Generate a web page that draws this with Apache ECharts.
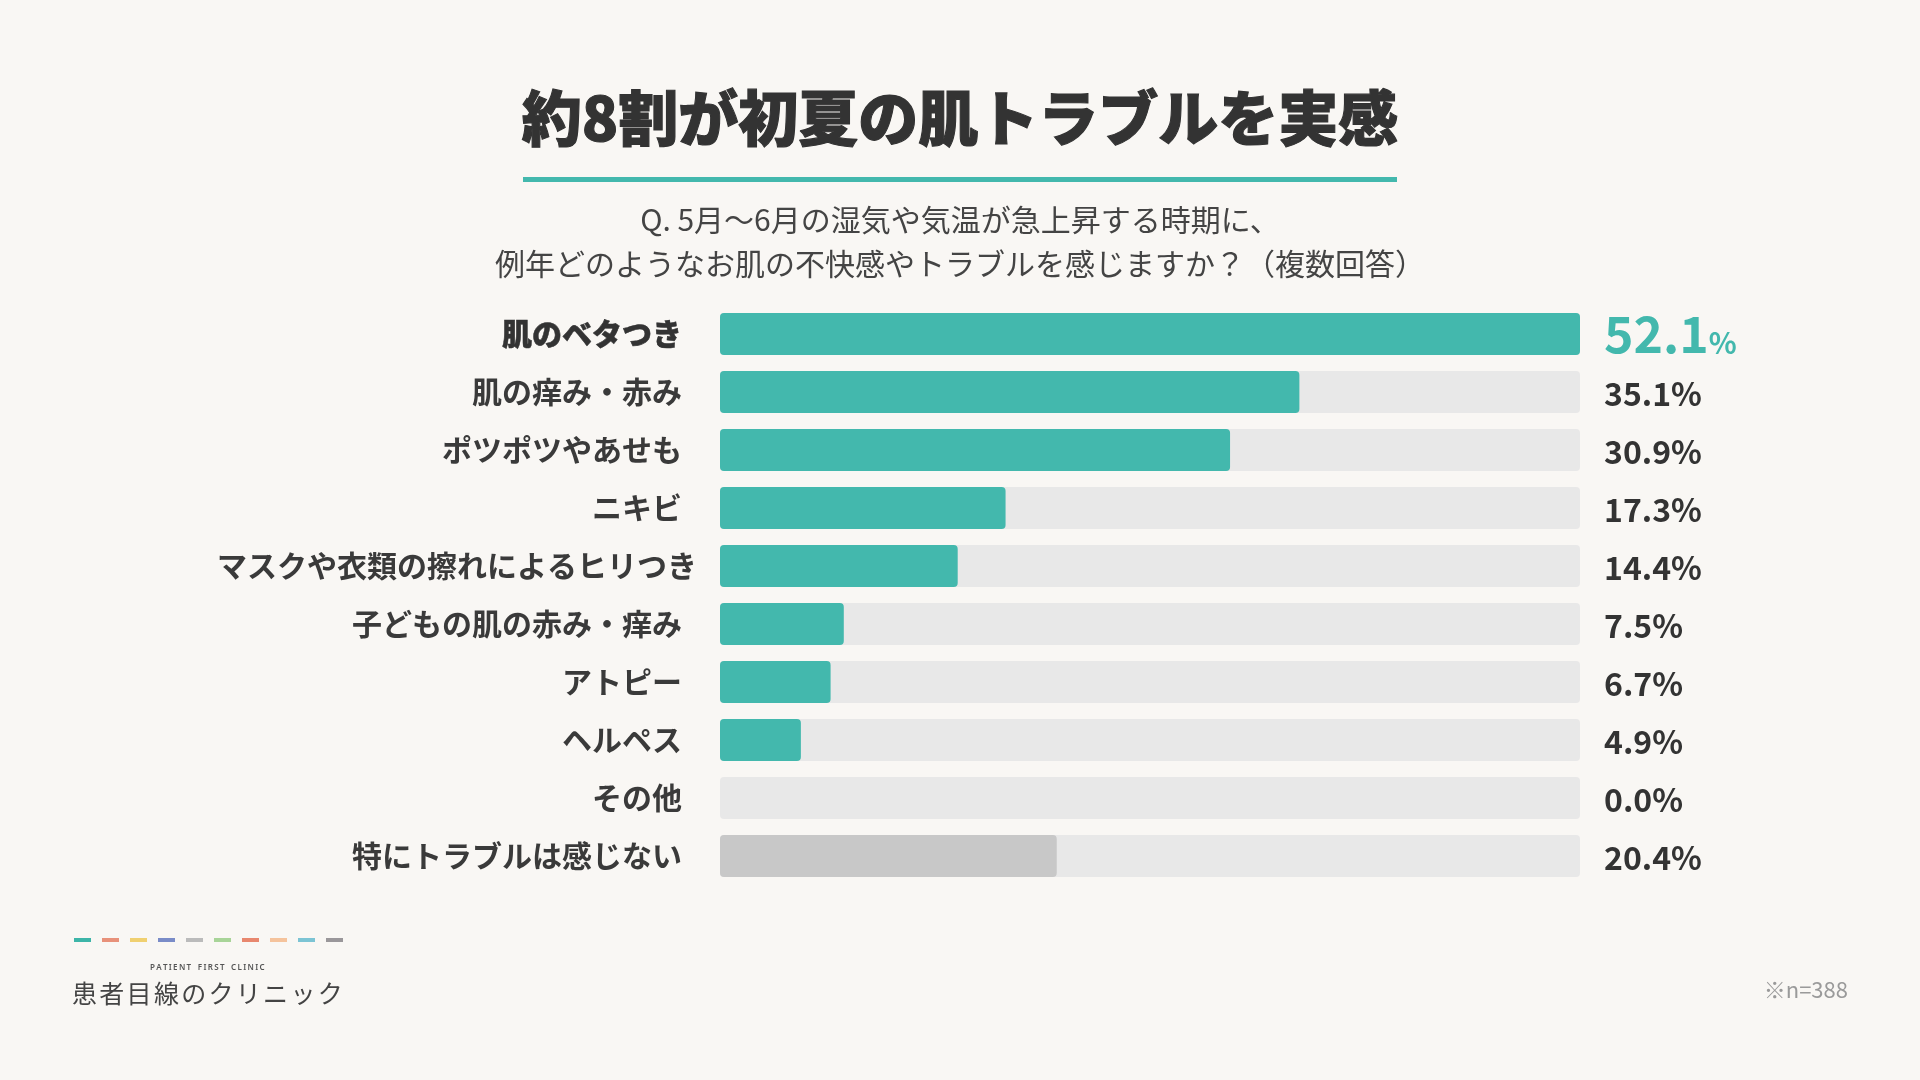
<!DOCTYPE html>
<html>
<head>
<meta charset="utf-8">
<script src="https://cdn.jsdelivr.net/npm/echarts@6/dist/echarts.min.js"></script>
<style>
html,body{margin:0;padding:0;background:#F9F7F4;}
#c{width:1920px;height:1080px;}
</style>
</head>
<body>
<div id="c"></div>
<script>
const titleText = '約8割が初夏の肌トラブルを実感';
const subtitleLines = ['Q. 5月〜6月の湿気や気温が急上昇する時期に、', '例年どのようなお肌の不快感やトラブルを感じますか？（複数回答）'];
const categories = ['肌のベタつき','肌の痒み・赤み','ポツポツやあせも','ニキビ','マスクや衣類の擦れによるヒリつき','子どもの肌の赤み・痒み','アトピー','ヘルペス','その他','特にトラブルは感じない'];
const values = [52.1, 35.1, 30.9, 17.3, 14.4, 7.5, 6.7, 4.9, 0.0, 20.4];
const sampleNote = '※n=388';
const logoSub = 'PATIENT FIRST CLINIC';
const logoMain = '患者目線のクリニック';
const logoColors = ['#3DB5A8','#E8917A','#F0D070','#7A8CC8','#BBBBBB','#A8D498','#E8876E','#F5C39C','#7CC4D4','#9A979A'];

const TEAL = '#43B8AD';
const GREY = '#C8C8C8';
const TRACK = '#E8E8E8';
const FONT = '"Noto Sans CJK JP", "Noto Sans", sans-serif';
const maxVal = Math.max(...values);
const topIndex = values.indexOf(maxVal);
const noneIndex = categories.length - 1;
const longIndex = categories.reduce((m, c, i) => c.length > categories[m].length ? i : m, 0);

const chart = echarts.init(document.getElementById('c'));

const graphics = [
  { type: 'rect', shape: { x: 523, y: 177, width: 874, height: 5 }, style: { fill: TEAL } },
  { type: 'text', right: 72, top: 979, style: { text: sampleNote, font: '400 22px ' + FONT, fill: '#9A9A9A' } },
  { type: 'text', left: 150, top: 964, style: { text: logoSub.split('').join('\u2009').replace(/ /g, '\u2002'), font: '600 8px "Noto Sans", sans-serif', fill: '#555' } }
];
subtitleLines.forEach((line, i) => {
  graphics.push({ type: 'text', x: 960, y: 220 + i * 44,
    style: { text: line, font: '400 30px ' + FONT, fill: '#444', textAlign: 'center', textVerticalAlign: 'middle' } });
});
logoColors.forEach((col, i) => {
  graphics.push({ type: 'rect', shape: { x: 74 + i * 28, y: 938, width: 17, height: 4 }, style: { fill: col } });
});
logoMain.split('').forEach((ch, i) => {
  graphics.push({ type: 'text', x: 72 + i * 27.3, y: 981, style: { text: ch, font: '400 25px ' + FONT, fill: '#444' } });
});

chart.setOption({
  backgroundColor: '#F9F7F4',
  animation: false,
  title: [
    { text: titleText, left: 'center', top: 80,
      textStyle: { fontFamily: FONT, fontSize: 60, fontWeight: 900, color: '#333', lineHeight: 66,
        textBorderColor: '#333', textBorderWidth: 1.1 } }
  ],
  grid: { left: 720, right: 340, top: 305, height: 580, containLabel: false, outerBoundsMode: 'none' },
  xAxis: { type: 'value', min: 0, max: maxVal, show: false },
  yAxis: {
    type: 'category', inverse: true, data: categories,
    axisLine: { show: false }, axisTick: { show: false }, splitLine: { show: false },
    axisLabel: {
      interval: 0, margin: 23,
      formatter: (v, i) => i === topIndex ? '{b|' + v + '}' : (i === longIndex ? '{l|' + v + '}' : '{n|' + v + '}'),
      rich: {
        b: { fontFamily: FONT, fontSize: 30, fontWeight: 900, color: '#333', padding: [0, 15, 0, 0],
          textBorderColor: '#333', textBorderWidth: 0.5 },
        n: { fontFamily: FONT, fontSize: 30, fontWeight: 700, color: '#3A3A3A', padding: [0, 15, 0, 0] },
        l: { fontFamily: FONT, fontSize: 30, fontWeight: 700, color: '#3A3A3A' }
      }
    }
  },
  series: [
    {
      type: 'bar', silent: true, barWidth: 42, barGap: '-100%',
      data: values.map(() => maxVal),
      itemStyle: { color: TRACK, borderRadius: 4 },
      label: {
        show: true, position: 'right', distance: 24,
        formatter: p => p.dataIndex === topIndex
          ? '{big|' + values[p.dataIndex].toFixed(1) + '}{pct|%}'
          : '{v|' + values[p.dataIndex].toFixed(1) + '%}',
        rich: {
          big: { fontFamily: FONT, fontSize: 50, fontWeight: 700, color: TEAL, verticalAlign: 'bottom' },
          pct: { fontFamily: FONT, fontSize: 29, fontWeight: 700, color: TEAL, verticalAlign: 'bottom', padding: [0, 0, 2, 0] },
          v: { fontFamily: FONT, fontSize: 32, fontWeight: 700, color: '#333', padding: [4, 0, 0, 0] }
        }
      },
      z: 1
    },
    {
      type: 'bar', barWidth: 42, barGap: '-100%',
      data: values.map((v, i) => ({ value: v, itemStyle: { color: i === noneIndex ? GREY : TEAL } })),
      itemStyle: { borderRadius: 4 },
      z: 2
    }
  ],
  graphic: graphics
});
</script>
</body>
</html>
